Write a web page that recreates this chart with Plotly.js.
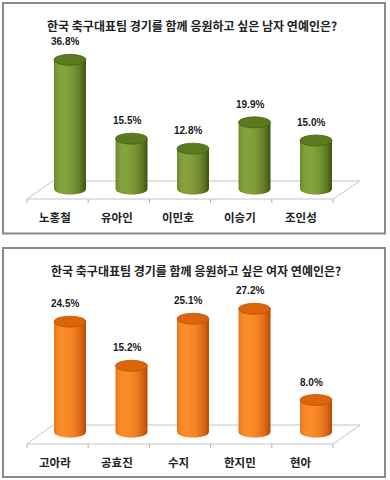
<!DOCTYPE html>
<html>
<head>
<meta charset="utf-8">
<script src="https://cdn.plot.ly/plotly-3.0.1.min.js"></script>
<style>html,body{margin:0;padding:0;background:#fff;}#chart{width:390px;height:480px;}</style>
</head>
<body>
<div id="chart"></div>
<script>
// ---- data ----
const maleTitle = '한국 축구대표팀 경기를 함께 응원하고 싶은 남자 연예인은?';
const maleNames = ['노홍철', '유아인', '이민호', '이승기', '조인성'];
const maleValues = [36.8, 15.5, 12.8, 19.9, 15.0];

const femaleTitle = '한국 축구대표팀 경기를 함께 응원하고 싶은 여자 연예인은?';
const femaleNames = ['고아라', '공효진', '수지', '한지민', '현아'];
const femaleValues = [24.5, 15.2, 25.1, 27.2, 8.0];

// ---- layout constants (pixels) ----
const W = 390, H = 480;
const PX = p => p / W;
const PY = p => 1 - p / H;
const X0PX = 70, XUNIT = 61.5;
const XRANGE = [-1, 5];
const xDomain = [PX(X0PX + XRANGE[0] * XUNIT), PX(X0PX + XRANGE[1] * XUNIT)];
const R = 16 / XUNIT;
const NSTRIP = 16;

const panels = [
  { title: maleTitle, names: maleNames, values: maleValues, ax: '', titleY: 25, titleX: 192,
    zeroY: 196, scale: 3.7, baseY: 189, domPx: [5, 232], floorBack: 181, floorFront: 199, labelY: 217,
    dark: [56, 78, 14], light: [132, 162, 60], top: '#5a7a1e', topLine: '#465f15',
    frame: [3, 3, 385, 233.5] },
  { title: femaleTitle, names: femaleNames, values: femaleValues, ax: '2', titleY: 270, titleX: 196,
    zeroY: 438, scale: 4.75, baseY: 432, domPx: [250, 476], floorBack: 425, floorFront: 444, labelY: 462,
    dark: [180, 68, 0], light: [252, 140, 40], top: '#dc640a', topLine: '#bb5200',
    frame: [3, 248, 385, 477] }
];

function shadeColor(t, dark, light) {
  const nx = 2 * t - 1, nz = Math.sqrt(Math.max(0, 1 - nx * nx));
  const lx = -0.42, lz = 0.91;
  let I = Math.max(0, nx * lx + nz * lz);
  I = 0.15 + 0.85 * I;
  const c = dark.map((d, j) => Math.round(d + (light[j] - d) * I));
  return 'rgb(' + c.join(',') + ')';
}

const traces = [];
const shapes = [];
const annotations = [];
const layout = {
  width: W, height: H, margin: { l: 0, r: 0, t: 0, b: 0 },
  paper_bgcolor: '#ffffff', plot_bgcolor: 'rgba(0,0,0,0)',
  barmode: 'overlay', showlegend: false
};

panels.forEach(p => {
  const xa = 'x' + p.ax, ya = 'y' + p.ax;
  const base = (p.zeroY - p.baseY) / p.scale;
  const hData = 5.5 / p.scale;
  const xs = p.names.map((_, i) => i);
  const yMax = (p.zeroY - p.domPx[0]) / p.scale;
  const yMin = (p.zeroY - p.domPx[1]) / p.scale;
  const axCommon = { showgrid: false, zeroline: false, showticklabels: false, showline: false, ticks: '', fixedrange: true };
  layout['xaxis' + p.ax] = Object.assign({ range: XRANGE, domain: xDomain, anchor: ya }, axCommon);
  layout['yaxis' + p.ax] = Object.assign({ range: [yMin, yMax], domain: [PY(p.domPx[1]), PY(p.domPx[0])], anchor: xa }, axCommon);

  shapes.push({ type: 'rect', xref: 'paper', yref: 'paper', x0: PX(p.frame[0]), x1: PX(p.frame[2]),
    y0: PY(p.frame[1]), y1: PY(p.frame[3]), line: { color: '#8a8a8a', width: 2 }, layer: 'below' });

  const fl = 27, fr = 333, bl = 53, br = 360;
  shapes.push({ type: 'path', xref: 'paper', yref: 'paper', layer: 'below',
    path: `M ${PX(fl)},${PY(p.floorFront)} L ${PX(fr)},${PY(p.floorFront)} L ${PX(br)},${PY(p.floorBack)} L ${PX(bl)},${PY(p.floorBack)} Z`,
    fillcolor: '#ffffff', line: { color: '#c4c4c4', width: 1 } });
  for (let k = 0; k <= p.names.length; k++) {
    const tx = fl + k * (fr - fl) / p.names.length;
    shapes.push({ type: 'line', xref: 'paper', yref: 'paper', layer: 'below',
      x0: PX(tx), x1: PX(tx), y0: PY(p.floorFront), y1: PY(p.floorFront + 4),
      line: { color: '#b0b0b0', width: 1 } });
  }

  const sw = 2 * R / NSTRIP;
  for (let k = 0; k < NSTRIP; k++) {
    const t = (k + 0.5) / NSTRIP;
    const col = shadeColor(t, p.dark, p.light);
    traces.push({
      type: 'bar', x: xs, y: p.values.map(v => v - base), base: base,
      xaxis: xa, yaxis: ya,
      offset: -R + k * sw, width: k < NSTRIP - 1 ? sw * 1.3 : sw,
      marker: { color: col, line: { width: 0 } }, hoverinfo: 'skip'
    });
    xs.forEach(i => {
      const a = i - R + k * sw;
      const b = a + (k < NSTRIP - 1 ? sw * 1.3 : sw);
      const bEnd = Math.min(b, i + R);
      let path = `M ${a},${base}`;
      const steps = 4;
      for (let s = 0; s <= steps; s++) {
        const xx = a + (bEnd - a) * s / steps;
        const u = (xx - i) / R;
        const yy = base - hData * Math.sqrt(Math.max(0, 1 - u * u));
        path += ` L ${xx},${yy}`;
      }
      path += ` L ${bEnd},${base} Z`;
      shapes.push({ type: 'path', xref: xa, yref: ya, layer: 'below', path: path,
        fillcolor: col, line: { width: 0 } });
    });
  }

  xs.forEach(i => {
    const v = p.values[i];
    shapes.push({ type: 'circle', xref: xa, yref: ya, layer: 'above',
      x0: i - R, x1: i + R, y0: v - hData, y1: v + hData,
      fillcolor: p.top, line: { color: p.topLine, width: 0.8 } });
    annotations.push({ xref: xa, yref: ya, x: i, y: v, xshift: -5, yshift: 18,
      text: v.toFixed(1) + '%', showarrow: false,
      font: { family: 'Liberation Sans, Arial, sans-serif', size: 10, color: '#1a1a1a', weight: 'bold' } });
    annotations.push({ xref: xa, yref: 'paper', x: i, y: PY(p.labelY), xshift: -15, yanchor: 'middle',
      text: p.names[i], showarrow: false,
      font: { family: 'Noto Sans CJK KR, sans-serif', size: 11.5, color: '#222222', weight: 'bold' } });
  });

  annotations.push({ xref: 'paper', yref: 'paper', x: PX(p.titleX), y: PY(p.titleY), yanchor: 'middle', xanchor: 'center',
    text: p.title, showarrow: false,
    font: { family: 'Noto Sans CJK KR, sans-serif', size: 12, color: '#222222', weight: 'bold' } });
});

layout.shapes = shapes;
layout.annotations = annotations;

Plotly.newPlot('chart', traces, layout, { staticPlot: true, displayModeBar: false });
</script>
</body>
</html>
